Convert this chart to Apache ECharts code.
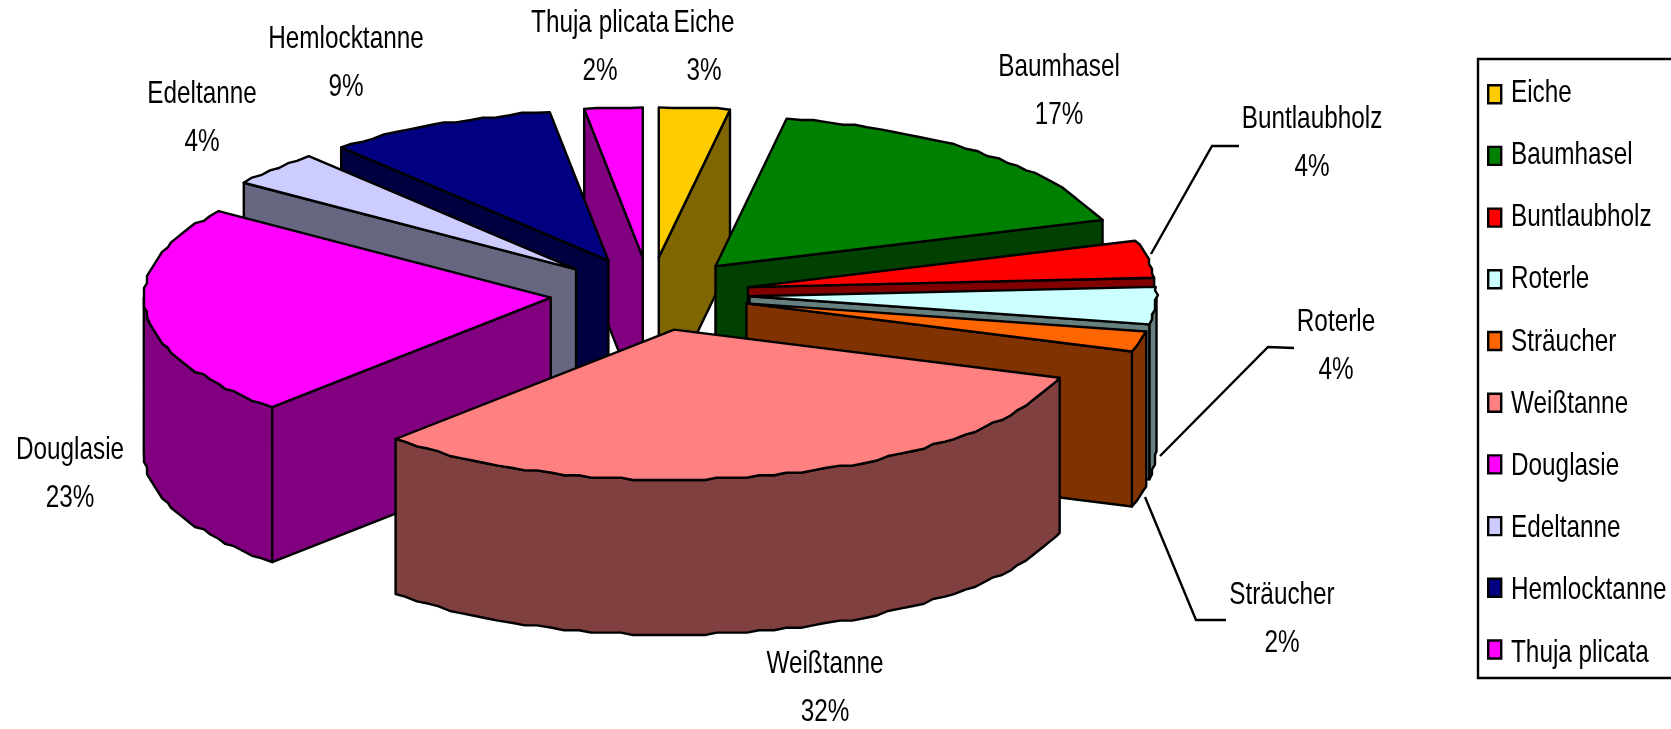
<!DOCTYPE html>
<html><head><meta charset="utf-8">
<style>html,body{margin:0;padding:0;background:#fff}#c{width:1671px;height:729px}</style>
<script src="https://cdn.jsdelivr.net/npm/echarts@6/dist/echarts.min.js"></script>
</head><body><div id="c"></div>
<script>
const categories = ['Eiche','Baumhasel','Buntlaubholz','Roterle','Sträucher','Weißtanne','Douglasie','Edeltanne','Hemlocktanne','Thuja plicata'];
const shares = [2.8,17.2,4.0,4.0,2.2,31.8,22.8,3.8,9.1,2.3];
const topColors = ['#FFCC00','#008000','#FF0000','#CCFFFF','#FF6600','#FF8080','#FF00FF','#CCCCFF','#000080','#FF00FF'];
const wallColors = ['#806600','#004000','#800000','#668080','#803300','#804040','#800080','#666680','#000040','#800080'];
const paintOrder = ['Eiche','Thuja plicata','Hemlocktanne','Baumhasel','Edeltanne','Buntlaubholz','Douglasie','Roterle','Sträucher','Weißtanne'];

const FONT = '"Liberation Sans",Arial,sans-serif';
const FS = 32, TEXT_SCALE = 0.76;
const PIE = {cx:650, cy:294, rx:407, ry:150, depth:155, explode:0.245};
const labelPos = {
  'Eiche':[704,47],'Baumhasel':[1059,91],'Buntlaubholz':[1312,143],'Roterle':[1336,346],
  'Sträucher':[1282,619],'Weißtanne':[825,688],'Douglasie':[70,474],'Edeltanne':[202,118],
  'Hemlocktanne':[346,63],'Thuja plicata':[600,47]
};
const leaders = {
  'Buntlaubholz':[[1239,146],[1212,146],[1151,254]],
  'Roterle':[[1294,348],[1268,347],[1160,456]],
  'Sträucher':[[1226,620],[1196,620],[1145,497]]
};
const LEG = {x:1478, y:59, w:196, h:619, textX:1511, firstY:93, step:62.2};

const total = shares.reduce((a,b)=>a+b,0);
const D2R = Math.PI/180;
function startAngle(i){ let s=0; for(let k=0;k<i;k++) s+=shares[k]; return s/total*360; }
const q = (v,s)=>Math.round(v/s)*s;

function makeRender(i){
  const name = categories[i];
  return function(params, api){
    const sweep = api.value(0)/total*360;
    const a0 = startAngle(i), a1 = a0+sweep, mid = (a0+a1)/2;
    const ax = PIE.cx + PIE.explode*PIE.rx*Math.sin(mid*D2R);
    const ay = PIE.cy - PIE.explode*PIE.ry*Math.cos(mid*D2R);
    const rim = a => [ax+PIE.rx*Math.sin(a*D2R), ay-PIE.ry*Math.cos(a*D2R)];
    const down = p => [p[0], p[1]+PIE.depth];
    const arc = (s,e) => {
      const out=[]; const n=Math.max(2,Math.ceil((e-s)/2));
      for(let k=0;k<=n;k++){ const p=rim(s+(e-s)*k/n); out.push(k===0||k===n?p:[q(p[0],3),q(p[1],2.4)]); }
      return out;
    };
    const stroke = {stroke:'#000', lineWidth:2.4, lineJoin:'round'};
    const wallStyle = Object.assign({fill:wallColors[i]}, stroke);
    const children = [];
    const A = [ax,ay];
    if (leaders[name]) children.push({type:'polyline', shape:{points:leaders[name]}, style:{stroke:'#000', lineWidth:2.4, fill:null}});
    const sR = rim(a0), eR = rim(a1);
    const drawStart = sR[0] < ax, drawEnd = eR[0] > ax;
    const rs = Math.max(a0,90), re = Math.min(a1,270);
    if (re > rs) {
      const t = arc(rs,re);
      children.push({type:'polygon', shape:{points:t.concat(t.slice().reverse().map(down))}, style:wallStyle});
    }
    if (drawStart) children.push({type:'polygon', shape:{points:[A,sR,down(sR),down(A)]}, style:wallStyle});
    if (drawEnd) children.push({type:'polygon', shape:{points:[A,eR,down(eR),down(A)]}, style:wallStyle});
    children.push({type:'polygon', shape:{points:[A].concat(arc(a0,a1))}, style:Object.assign({fill:topColors[i]}, stroke)});
    const lp = labelPos[name];
    children.push({type:'text', x:lp[0], y:lp[1], scaleX:TEXT_SCALE,
      style:{text:name+'\n'+Math.round(api.value(0)/total*100)+'%', x:0, y:0, align:'center', verticalAlign:'middle', font:FS+'px '+FONT, lineHeight:48, fill:'#000'}});
    return {type:'group', children};
  };
}

const series = paintOrder.map((name, order) => {
  const i = categories.indexOf(name);
  return {type:'custom', name, coordinateSystem:'none', silent:true, z:2+order,
    itemStyle:{color:topColors[i]}, data:[[shares[i]]], renderItem:makeRender(i), clip:false};
});

const graphic = [{type:'rect', z:0, silent:true, shape:{x:LEG.x, y:LEG.y, width:LEG.w, height:LEG.h}, style:{fill:'#fff', stroke:'#000', lineWidth:2.4}}]
  .concat(categories.map((name,k)=>({type:'text', z:100, silent:true, x:LEG.textX, y:LEG.firstY+k*LEG.step, scaleX:TEXT_SCALE,
    style:{text:name, x:0, y:0, align:'left', verticalAlign:'middle', font:FS+'px '+FONT, fill:'#000'}})));

const chart = echarts.init(document.getElementById('c'), null, {renderer:'canvas'});
chart.setOption({
  animation:false, backgroundColor:'#fff',
  graphic,
  legend:{orient:'vertical', left:1487, top:84, icon:'rect', selectedMode:false,
    data:categories, itemWidth:13, itemHeight:18, itemGap:41.3, padding:0,
    itemStyle:{borderColor:'#000', borderWidth:2.4},
    formatter:()=>' ',
    textStyle:{fontFamily:FONT, fontSize:12, color:'#000'}},
  series
});
</script></body></html>
